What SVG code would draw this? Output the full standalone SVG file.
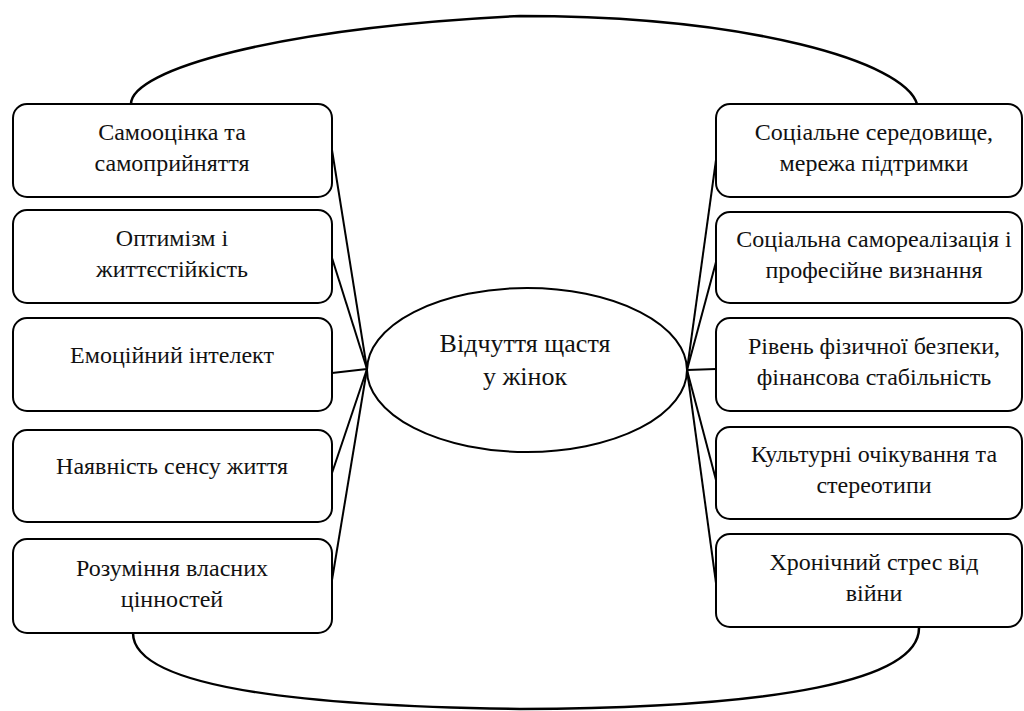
<svg xmlns="http://www.w3.org/2000/svg" width="1024" height="711" viewBox="0 0 1024 711">
<style>
.box{fill:#fff;stroke:#000;stroke-width:2}
.t{font-family:"Liberation Serif","Times New Roman",serif;font-size:24px;fill:#111;text-anchor:middle}
.c{font-family:"Liberation Serif","Times New Roman",serif;font-size:26px;fill:#111;text-anchor:middle}
.ln{stroke:#000;stroke-width:2;fill:none}
.arc{stroke:#000;stroke-width:2.5;fill:none}
</style>
<rect width="1024" height="711" fill="#fff"/>
<g id="connectors">
<path class="arc" d="M131,104 C131,70 275,28 520,16 C750,16 905,62 917,104"/>
<path class="arc" d="M133,633 C133,682 270,706 520,709 C780,708 919,680 919,628"/>
<line class="ln" x1="332" y1="150" x2="367" y2="369"/>
<line class="ln" x1="332" y1="258" x2="367" y2="369"/>
<line class="ln" x1="332" y1="373" x2="367" y2="369"/>
<line class="ln" x1="332" y1="473" x2="367" y2="369"/>
<line class="ln" x1="332" y1="580" x2="367" y2="369"/>
<line class="ln" x1="716" y1="160" x2="687" y2="370"/>
<line class="ln" x1="716" y1="262" x2="687" y2="370"/>
<line class="ln" x1="716" y1="369" x2="687" y2="370"/>
<line class="ln" x1="716" y1="480" x2="687" y2="370"/>
<line class="ln" x1="716" y1="583" x2="687" y2="370"/>
</g>
<g id="center">
<ellipse cx="527" cy="370" rx="160" ry="82" fill="#fff" stroke="#000" stroke-width="2"/>
<text class="c" x="525" y="352">Відчуття щастя</text>
<text class="c" x="525" y="385">у жінок</text>
</g>
<g id="l1"><rect class="box" x="13" y="104" width="319" height="93" rx="14"/>
<text class="t" x="172" y="140">Самооцінка та</text><text class="t" x="172" y="171">самоприйняття</text></g>
<g id="l2"><rect class="box" x="13" y="210" width="319" height="93" rx="14"/>
<text class="t" x="172" y="246">Оптимізм і</text><text class="t" x="172" y="277">життєстійкість</text></g>
<g id="l3"><rect class="box" x="13" y="318" width="319" height="93" rx="14"/>
<text class="t" x="172" y="363">Емоційний інтелект</text></g>
<g id="l4"><rect class="box" x="13" y="430" width="319" height="92" rx="14"/>
<text class="t" x="172" y="474">Наявність сенсу життя</text></g>
<g id="l5"><rect class="box" x="13" y="539" width="319" height="94" rx="14"/>
<text class="t" x="172" y="576">Розуміння власних</text><text class="t" x="172" y="607">цінностей</text></g>
<g id="r1"><rect class="box" x="716" y="104" width="306" height="93" rx="14"/>
<text class="t" x="874" y="140">Соціальне середовище,</text><text class="t" x="874" y="171">мережа підтримки</text></g>
<g id="r2"><rect class="box" x="716" y="212" width="306" height="91" rx="14"/>
<text class="t" x="874" y="247">Соціальна самореалізація і</text><text class="t" x="874" y="278">професійне визнання</text></g>
<g id="r3"><rect class="box" x="716" y="318" width="306" height="93" rx="14"/>
<text class="t" x="874" y="354">Рівень фізичної безпеки,</text><text class="t" x="874" y="385">фінансова стабільність</text></g>
<g id="r4"><rect class="box" x="716" y="427" width="306" height="92" rx="14"/>
<text class="t" x="874" y="462">Культурні очікування та</text><text class="t" x="874" y="493">стереотипи</text></g>
<g id="r5"><rect class="box" x="716" y="534" width="306" height="93" rx="14"/>
<text class="t" x="874" y="570">Хронічний стрес від</text><text class="t" x="874" y="601">війни</text></g>
</svg>
